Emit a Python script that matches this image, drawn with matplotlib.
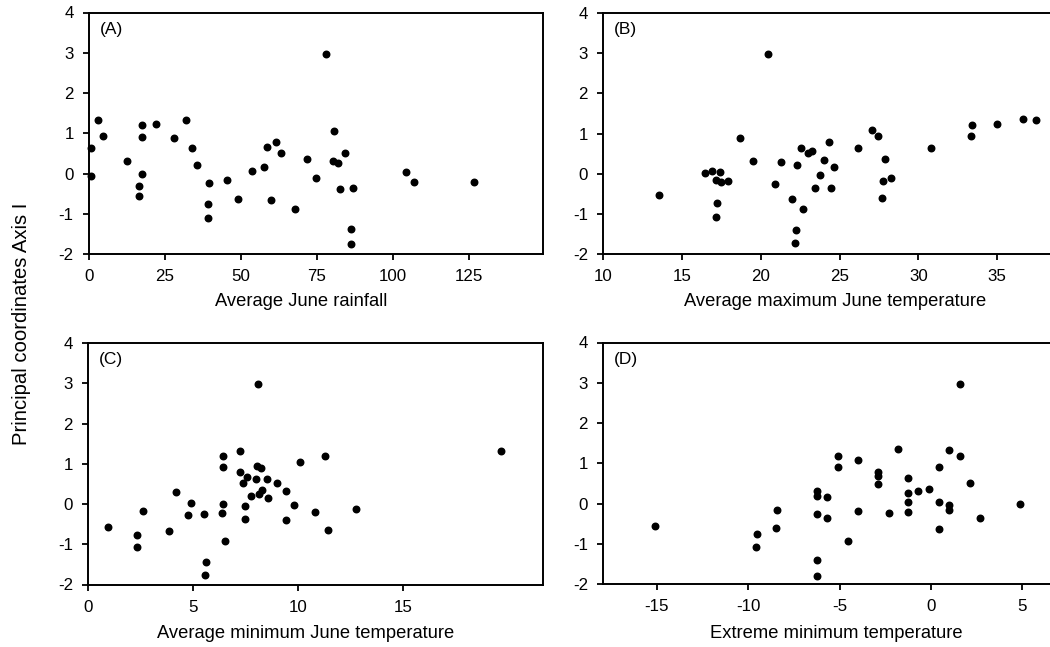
import matplotlib
matplotlib.use("Agg")
import matplotlib.pyplot as plt

plt.rcParams['font.family'] = ['Liberation Sans', 'DejaVu Sans']
plt.rcParams['axes.unicode_minus'] = False

# Panel A: Average June rainfall
rain_x = [0.8, 0.8, 3.1, 4.6, 12.5, 16.5, 16.5, 17.4, 17.5, 17.5, 22.0, 28.1, 32.0, 34.0,
          35.7, 39.4, 39.3, 39.2, 45.6, 49.0, 53.7, 57.7, 58.5, 60.0, 61.7, 63.3, 67.9,
          71.7, 74.9, 78.0, 80.7, 80.5, 82.1, 82.7, 84.2, 87.0, 86.2, 86.2, 104.3, 107.0, 126.8]
rain_y = [0.64, -0.06, 1.32, 0.94, 0.30, -0.30, -0.55, 1.21, 0.91, -0.01, 1.23, 0.89, 1.33, 0.64,
          0.21, -0.23, -0.77, -1.10, -0.15, -0.63, 0.05, 0.16, 0.66, -0.66, 0.78, 0.50, -0.89,
          0.35, -0.12, 2.97, 1.06, 0.31, 0.27, -0.39, 0.52, -0.36, -1.39, -1.74, 0.03, -0.20, -0.20]

# Panel B: Average maximum June temperature
tmax_x = [13.56, 16.44, 16.93, 17.42, 17.18, 17.48, 17.92, 17.20, 17.18, 18.71, 19.51, 20.44,
          20.89, 21.29, 21.99, 22.27, 22.23, 22.20, 22.54, 22.65, 22.98, 23.24, 23.47, 23.73,
          24.03, 24.30, 24.47, 24.66, 26.19, 27.05, 27.46, 27.88, 27.75, 27.69, 28.24, 30.83,
          33.41, 33.37, 35.02, 36.63, 37.48]
tmax_y = [-0.54, 0.01, 0.07, 0.05, -0.17, -0.21, -0.18, -0.74, -1.08, 0.90, 0.31, 2.98,
          -0.25, 0.30, -0.63, 0.22, -1.41, -1.73, 0.63, -0.89, 0.52, 0.56, -0.35, -0.04,
          0.33, 0.80, -0.36, 0.17, 0.65, 1.09, 0.95, 0.36, -0.18, -0.61, -0.10, 0.65,
          1.20, 0.93, 1.24, 1.36, 1.34]

# Panel C: Average minimum June temperature
tmin_x = [0.92, 2.30, 2.32, 2.59, 3.84, 4.19, 4.76, 4.89, 5.51, 5.59, 5.57, 6.37, 6.43, 6.43,
          6.43, 6.51, 7.24, 7.21, 7.38, 7.54, 7.46, 7.46, 7.76, 7.99, 8.02, 8.22, 8.10, 8.11,
          8.27, 8.49, 8.56, 8.97, 9.43, 9.40, 9.81, 10.10, 10.81, 11.26, 11.40, 12.75, 19.64]
tmin_y = [-0.56, -0.76, -1.08, -0.17, -0.67, 0.29, -0.28, 0.03, -0.25, -1.43, -1.76, -0.22, 0.01, 0.91,
          1.19, -0.92, 1.31, 0.79, 0.51, 0.66, -0.04, -0.38, 0.20, 0.61, 0.94, 0.89, 2.98, 0.26,
          0.36, 0.63, 0.16, 0.52, 0.32, -0.39, -0.02, 1.05, -0.21, 1.20, -0.65, -0.13, 1.31]

# Panel D: Extreme minimum temperature
extmin_x = [-15.11, -9.54, -9.55, -8.42, -8.48, -6.21, -6.21, -6.23, -6.23, -6.23, -5.68, -5.66,
            -5.08, -5.11, -4.55, -4.00, -4.00, -2.88, -2.88, -2.88, -2.28, -1.78, -1.24, -1.24,
            -1.24, -1.24, -0.71, -0.10, 0.47, 0.47, 0.47, 1.00, 1.00, 1.00, 1.58, 1.58, 2.15,
            2.70, 4.89]
extmin_y = [-0.55, -0.75, -1.08, -0.15, -0.61, 0.32, 0.18, -0.26, -1.40, -1.79, 0.15, -0.37,
            1.18, 0.91, -0.92, 1.07, -0.18, 0.78, 0.68, 0.49, -0.23, 1.35, 0.63, 0.27,
            0.03, -0.20, 0.32, 0.35, 0.90, 0.04, -0.64, 1.33, -0.03, -0.15, 2.97, 1.19, 0.52,
            -0.37, -0.01]

panel_letters = ['(A)', '(B)', '(C)', '(D)']
x_labels = ['Average June rainfall', 'Average maximum June temperature',
            'Average minimum June temperature', 'Extreme minimum temperature']
x_ticks = [[0, 25, 50, 75, 100, 125], [10, 15, 20, 25, 30, 35],
           [0, 5, 10, 15], [-15, -10, -5, 0, 5]]
y_ticks = [-2, -1, 0, 1, 2, 3, 4]
y_label = 'Principal coordinates Axis I'

W, H = 1050, 647
fig = plt.figure(figsize=(W / 100, H / 100), dpi=100)

# pixel boxes: left, right, top, bottom
boxes = [(89, 543.3, 12.5, 254), (603.3, 1056, 13, 254),
         (88.3, 543.3, 343, 584.5), (603.3, 1056, 342.5, 584)]
xlims = [(0, 149.6), (10, 38.74), (0, 21.67), (-17.93, 6.85)]
xlabel_cx = [301, 835, 306, 836]
xlabel_cy = [302, 302, 633, 633]
data = [(rain_x, rain_y), (tmax_x, tmax_y), (tmin_x, tmin_y), (extmin_x, extmin_y)]

for i in range(4):
    l, r, t, b = boxes[i]
    ax = fig.add_axes([l / W, 1 - b / H, (r - l) / W, (b - t) / H])
    xs, ys = data[i]
    ax.plot(xs, ys, 'o', color='black', markersize=4.7, linestyle='none', clip_on=False)
    ax.set_xlim(*xlims[i])
    ax.set_ylim(-2, 4)
    ax.set_xticks(x_ticks[i])
    ax.set_yticks(y_ticks)
    for s in ax.spines.values():
        s.set_linewidth(1.4)
    ax.tick_params(direction='out', length=4.5, width=1.3, pad=6.5, labelsize=12.2)
    ax.set_xlabel(x_labels[i], fontsize=13.2)
    ax.xaxis.label.set_va('center')
    ax.xaxis.set_label_coords((xlabel_cx[i] - l) / (r - l), (b - xlabel_cy[i]) / (b - t))
    ax.text(0.024, 0.962, panel_letters[i], transform=ax.transAxes, ha='left', va='top',
            fontsize=12.5)

fig.text(22 / W, 0.5, y_label, rotation=90, ha='center', va='center', fontsize=14.6)

fig.savefig('out.png', dpi=100)
